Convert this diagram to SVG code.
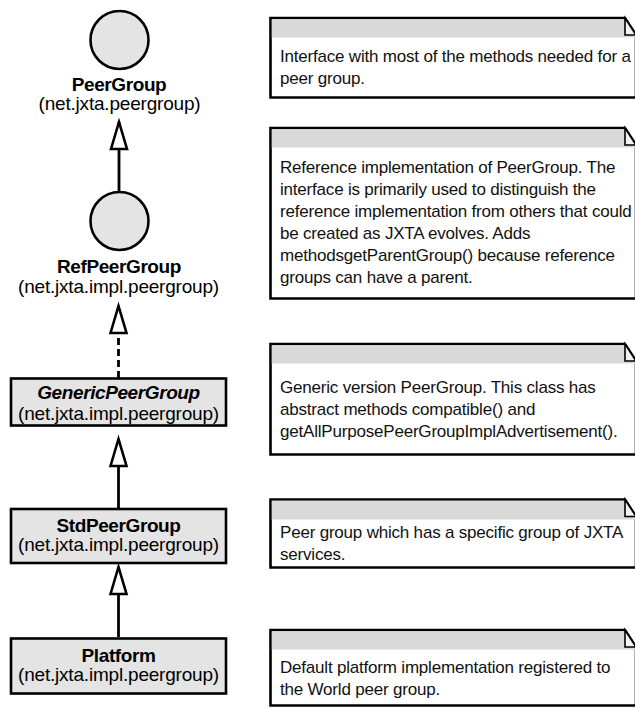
<svg xmlns="http://www.w3.org/2000/svg" width="635" height="709" viewBox="0 0 635 709">
  <style>
    .shape { fill: #e4e4e4; stroke: #000; stroke-width: 2.6; }
    .lbl { font-family: "Liberation Sans", Arial, Helvetica, sans-serif; font-size: 19px; letter-spacing: -0.2px; fill: #000; text-anchor: middle; }
    .name { font-weight: bold; letter-spacing: -0.4px; }
    .abstract { font-style: italic; }
    .edge { fill: none; stroke: #000; stroke-width: 2.8; }
    .dashed { stroke-dasharray: 7 4; }
    .note-body { fill: #fff; stroke: #000; stroke-width: 2.6; }
    .note-head { fill: #d9d9d9; }
    .fold { fill: #f2f2f2; stroke: #000; stroke-width: 1.6; }
    .ntxt { font-family: "Liberation Sans", Arial, Helvetica, sans-serif; font-size: 17px; letter-spacing: -0.2px; fill: #111; }
  </style>
  <defs>
    <marker id="inherit" markerUnits="userSpaceOnUse" markerWidth="30" markerHeight="20" refX="27" refY="8" orient="auto" overflow="visible">
      <path d="M0,0 L27,8 L0,16 Z" fill="#fff" stroke="#000" stroke-width="2.6" stroke-linejoin="miter" stroke-dasharray="none"/>
    </marker>
  </defs>

  <!-- inheritance connectors -->
  <g id="connectors">
    <path class="edge" d="M119,192 V122" marker-end="url(#inherit)"/>
    <path class="edge dashed" d="M118.5,378 V306" marker-end="url(#inherit)"/>
    <path class="edge" d="M118.5,508 V439" marker-end="url(#inherit)"/>
    <path class="edge" d="M118.5,637 V567" marker-end="url(#inherit)"/>
  </g>

  <!-- interfaces -->
  <g id="PeerGroup">
    <circle class="shape" cx="119.5" cy="40" r="29"/>
    <text class="lbl name" x="119" y="91">PeerGroup</text>
    <text class="lbl" x="119.5" y="110">(net.jxta.peergroup)</text>
  </g>
  <g id="RefPeerGroup">
    <circle class="shape" cx="119.5" cy="221" r="29"/>
    <text class="lbl name" x="119" y="273">RefPeerGroup</text>
    <text class="lbl" x="118.5" y="292.5">(net.jxta.impl.peergroup)</text>
  </g>

  <!-- classes -->
  <g id="GenericPeerGroup">
    <rect class="shape" x="11" y="378.5" width="215" height="47"/>
    <text class="lbl name abstract" x="118.5" y="399">GenericPeerGroup</text>
    <text class="lbl" x="118.5" y="419.5">(net.jxta.impl.peergroup)</text>
  </g>
  <g id="StdPeerGroup">
    <rect class="shape" x="11" y="509" width="215" height="54"/>
    <text class="lbl name" x="118.5" y="531.5">StdPeerGroup</text>
    <text class="lbl" x="118.5" y="551">(net.jxta.impl.peergroup)</text>
  </g>
  <g id="Platform">
    <rect class="shape" x="11" y="638.5" width="215" height="55"/>
    <text class="lbl name" x="118.5" y="661.5">Platform</text>
    <text class="lbl" x="118.5" y="680.5">(net.jxta.impl.peergroup)</text>
  </g>

  <!-- notes -->
  <g id="note-PeerGroup">
    <path class="note-body" d="M270.5,18 H625 L636,35 V97.5 H270.5 Z"/>
    <path class="note-head" d="M271.8,19.3 H624.3 L635,36 V37.5 H271.8 Z"/>
    <path class="fold" d="M625,18 V35 H636 Z"/>
    <text class="ntxt" x="280" y="62">Interface with most of the methods needed for a</text>
    <text class="ntxt" x="280" y="84">peer group.</text>
  </g>
  <g id="note-RefPeerGroup">
    <path class="note-body" d="M270.5,128 H625 L636,145 V298.5 H270.5 Z"/>
    <path class="note-head" d="M271.8,129.3 H624.3 L635,146 V147.5 H271.8 Z"/>
    <path class="fold" d="M625,128 V145 H636 Z"/>
    <text class="ntxt" x="280" y="173">Reference implementation of PeerGroup. The</text>
    <text class="ntxt" x="280" y="195">interface is primarily used to distinguish the</text>
    <text class="ntxt" x="280" y="217">reference implementation from others that could</text>
    <text class="ntxt" x="280" y="239">be created as JXTA evolves. Adds</text>
    <text class="ntxt" x="280" y="261">methodsgetParentGroup() because reference</text>
    <text class="ntxt" x="280" y="283">groups can have a parent.</text>
  </g>
  <g id="note-GenericPeerGroup">
    <path class="note-body" d="M270.5,344 H625 L636,361 V454.5 H270.5 Z"/>
    <path class="note-head" d="M271.8,345.3 H624.3 L635,362 V363.5 H271.8 Z"/>
    <path class="fold" d="M625,344 V361 H636 Z"/>
    <text class="ntxt" x="280" y="393">Generic version PeerGroup. This class has</text>
    <text class="ntxt" x="280" y="415">abstract methods compatible() and</text>
    <text class="ntxt" x="280" y="437">getAllPurposePeerGroupImplAdvertisement().</text>
  </g>
  <g id="note-StdPeerGroup">
    <path class="note-body" d="M270.5,499.5 H625 L636,516.5 V567.5 H270.5 Z"/>
    <path class="note-head" d="M271.8,500.8 H624.3 L635,517.5 V519.5 H271.8 Z"/>
    <path class="fold" d="M625,499.5 V516.5 H636 Z"/>
    <text class="ntxt" x="280" y="538">Peer group which has a specific group of JXTA</text>
    <text class="ntxt" x="280" y="560">services.</text>
  </g>
  <g id="note-Platform">
    <path class="note-body" d="M270.5,630 H625 L636,647 V705.5 H270.5 Z"/>
    <path class="note-head" d="M271.8,631.3 H624.3 L635,648 V649.5 H271.8 Z"/>
    <path class="fold" d="M625,630 V647 H636 Z"/>
    <text class="ntxt" x="280" y="672.5">Default platform implementation registered to</text>
    <text class="ntxt" x="280" y="694.5">the World peer group.</text>
  </g>
</svg>
